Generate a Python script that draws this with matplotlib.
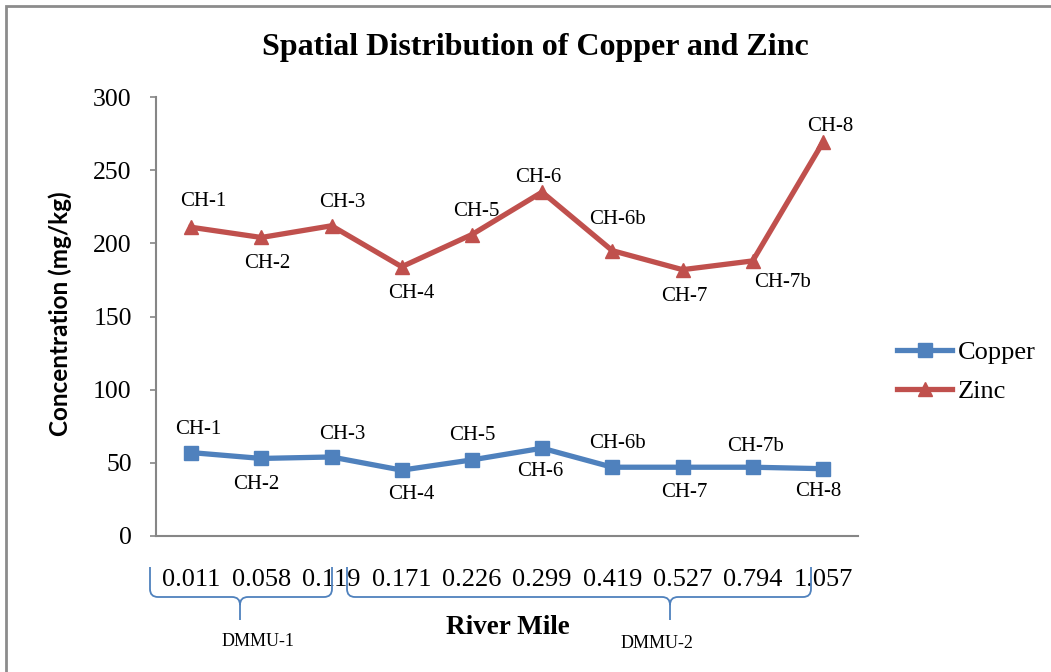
import matplotlib
matplotlib.use("Agg")
import matplotlib.pyplot as plt
from matplotlib.path import Path
from matplotlib.patches import PathPatch, Rectangle

# ---- data ----
river_mile = ["0.011", "0.058", "0.119", "0.171", "0.226", "0.299", "0.419", "0.527", "0.794", "1.057"]
stations = ["CH-1", "CH-2", "CH-3", "CH-4", "CH-5", "CH-6", "CH-6b", "CH-7", "CH-7b", "CH-8"]
copper = [57, 53, 54, 45, 52, 60, 47, 47, 47, 46]
zinc = [211, 204, 212, 184, 206, 235, 195, 182, 188, 269]

# label offsets in pixels (dx, dy with dy positive = downward)
zinc_off = [(12, -26), (6, 26), (11, -23), (10, 27), (4, -23), (-4, -15), (5, -31), (2, 27), (30, 22), (7, -16)]
copper_off = [(7, -23), (-5, 26), (11, -22), (10, 24), (0, -24), (-2, 23), (5, -24), (2, 25), (3, -21), (-5, 23)]

W, H = 1051, 672
SERIF = ["Liberation Serif", "DejaVu Serif"]
BLUE = "#4F81BD"
RED = "#C0504D"
GRAY = "#868686"

fig = plt.figure(figsize=(W / 100, H / 100), dpi=100)

def px(x, y):
    return (x / W, 1 - y / H)

ax_left, ax_right, ax_top, ax_bot = 156, 858, 97, 536
ax = fig.add_axes([ax_left / W, 1 - ax_bot / H, (ax_right - ax_left) / W, (ax_bot - ax_top) / H])

x = list(range(len(river_mile)))
ax.plot(x, copper, color=BLUE, lw=3.8, marker="s", ms=9.5, label="Copper", solid_joinstyle="round")
ax.plot(x, zinc, color=RED, lw=3.8, marker="^", ms=10.5, label="Zinc", solid_joinstyle="round")

for i, (name, v) in enumerate(zip(stations, zinc)):
    dx, dy = zinc_off[i]
    ax.annotate(name, (i, v), xytext=(dx, -dy), textcoords="offset pixels",
                ha="center", va="center", fontsize=15, family=SERIF)
for i, (name, v) in enumerate(zip(stations, copper)):
    dx, dy = copper_off[i]
    ax.annotate(name, (i, v), xytext=(dx, -dy), textcoords="offset pixels",
                ha="center", va="center", fontsize=15, family=SERIF)

ax.set_xlim(-0.5, len(river_mile) - 0.5)
ax.set_ylim(0, 300)
ax.set_yticks(range(0, 301, 50))
ax.set_xticks(x)
ax.set_xticklabels(river_mile, fontsize=19, family=SERIF)
for lab in ax.get_yticklabels():
    lab.set_fontsize(18.5)
    lab.set_family(SERIF)
ax.tick_params(axis="x", length=0, pad=24)
ax.tick_params(axis="y", length=4.5, width=1.2, color=GRAY, pad=13)
for s in ["top", "right"]:
    ax.spines[s].set_visible(False)
for s in ["left", "bottom"]:
    ax.spines[s].set_color(GRAY)
    ax.spines[s].set_linewidth(1.5)

fig.text(*px(60, 314), "Concentration (mg/kg)", rotation=90, ha="center", va="center",
         fontsize=17.5, fontweight="bold", family=["Lato", "DejaVu Sans"])

fig.text(*px(535, 47), "Spatial Distribution of Copper and Zinc", ha="center", va="center",
         fontsize=23, fontweight="bold", family=SERIF)
fig.text(*px(508, 628), "River Mile", ha="center", va="center", fontsize=19.5, fontweight="bold", family=SERIF)
fig.text(*px(258, 641), "DMMU-1", ha="center", va="center", fontsize=13, family=SERIF)
fig.text(*px(657, 643), "DMMU-2", ha="center", va="center", fontsize=13, family=SERIF)

def brace(x0, x1, xm, ytop=567, yh=597, ytip=620, r=8):
    verts = [px(x0, ytop), px(x0, yh - r), px(x0, yh), px(x0 + r, yh), px(xm - r, yh),
             px(xm, yh), px(xm, yh + r), px(xm, ytip),
             px(xm, yh + r), px(xm, yh), px(xm + r, yh), px(x1 - r, yh), px(x1, yh), px(x1, yh - r), px(x1, ytop)]
    codes = [Path.MOVETO, Path.LINETO, Path.CURVE3, Path.CURVE3, Path.LINETO,
             Path.CURVE3, Path.CURVE3, Path.LINETO,
             Path.MOVETO, Path.CURVE3, Path.CURVE3, Path.LINETO, Path.CURVE3, Path.CURVE3, Path.LINETO]
    fig.patches.append(PathPatch(Path(verts, codes), transform=fig.transFigure, fill=False,
                                 edgecolor=BLUE, lw=1.3, figure=fig))

brace(150, 332, 240)
brace(347, 811, 670)

leg = fig.legend(loc="center left", bbox_to_anchor=px(897, 372), frameon=False,
                 prop={"family": SERIF, "size": 19}, handlelength=2.1, handletextpad=0.2,
                 labelspacing=0.6, borderaxespad=0, borderpad=0)

fig.patches.append(Rectangle(px(6, 700), (1100 - 6) / W, (700 - 6) / H, transform=fig.transFigure,
                             fill=False, edgecolor="#8C8C8C", lw=2, figure=fig))

fig.savefig("out.png", dpi=100)
